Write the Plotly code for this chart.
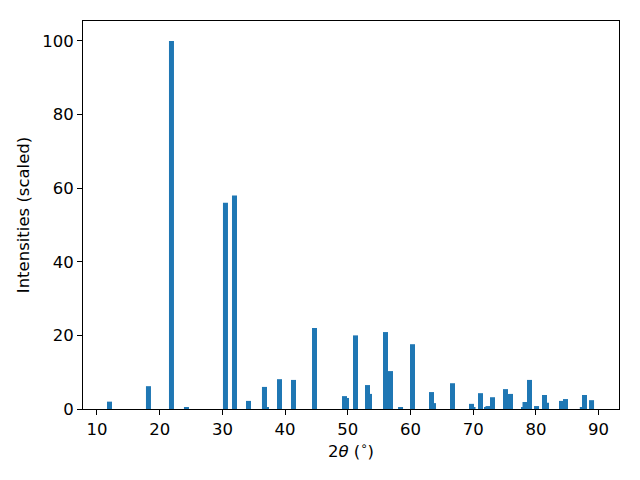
import plotly.graph_objects as go

two_theta = [12.0, 18.21, 21.88, 24.27, 30.49, 31.93, 34.16, 36.71, 37.03, 39.11,
             41.34, 44.69, 49.47, 49.79, 51.23, 53.14, 53.46, 56.01, 56.81, 58.41,
             60.32, 63.35, 63.67, 66.70, 69.73, 69.97, 71.16, 72.12, 72.36, 73.08,
             75.15, 75.95, 78.02, 78.26, 78.98, 80.10, 81.37, 81.69, 84.08, 84.72,
             87.40, 87.75, 88.87]
intensities = [2.0, 6.2, 100.0, 0.55, 56.0, 58.0, 2.2, 6.0, 0.3, 8.1,
               7.9, 22.0, 3.5, 3.0, 20.0, 6.5, 4.1, 20.9, 10.3, 0.5,
               17.6, 4.6, 1.6, 7.0, 1.4, 0.3, 4.3, 0.3, 0.8, 3.2,
               5.4, 4.1, 0.3, 1.9, 7.9, 0.8, 3.8, 1.7, 2.2, 2.7,
               0.3, 3.8, 2.4]

x_ticks = [10, 20, 30, 40, 50, 60, 70, 80, 90]
y_ticks = [0, 20, 40, 60, 80, 100]

fig = go.Figure(go.Bar(x=two_theta, y=intensities, width=0.8,
                       marker=dict(color="#1f77b4", line=dict(width=0))))

font = dict(family="DejaVu Sans", size=16.5, color="black")
fig.update_layout(
    width=640, height=480,
    margin=dict(l=75, r=29, t=13, b=79),
    plot_bgcolor="white", paper_bgcolor="white",
    font=font, showlegend=False, barmode="overlay",
)
fig.update_xaxes(range=[7.77, 93.25], tickvals=x_ticks, ticks="outside", ticklen=5,
                 tickcolor="black", showline=True, linecolor="black", linewidth=1,
                 mirror=True, showgrid=False, zeroline=False,
                 title=dict(text="2<i>θ</i> (<sup>∘</sup>)", font=font, standoff=6))
fig.update_yaxes(range=[0, 105.4], tickvals=y_ticks, ticks="outside", ticklen=5,
                 tickcolor="black", showline=True, linecolor="black", linewidth=1,
                 mirror=True, showgrid=False, zeroline=False,
                 title=dict(text="Intensities (scaled)", font=font, standoff=8))

fig.write_html("out.html")
